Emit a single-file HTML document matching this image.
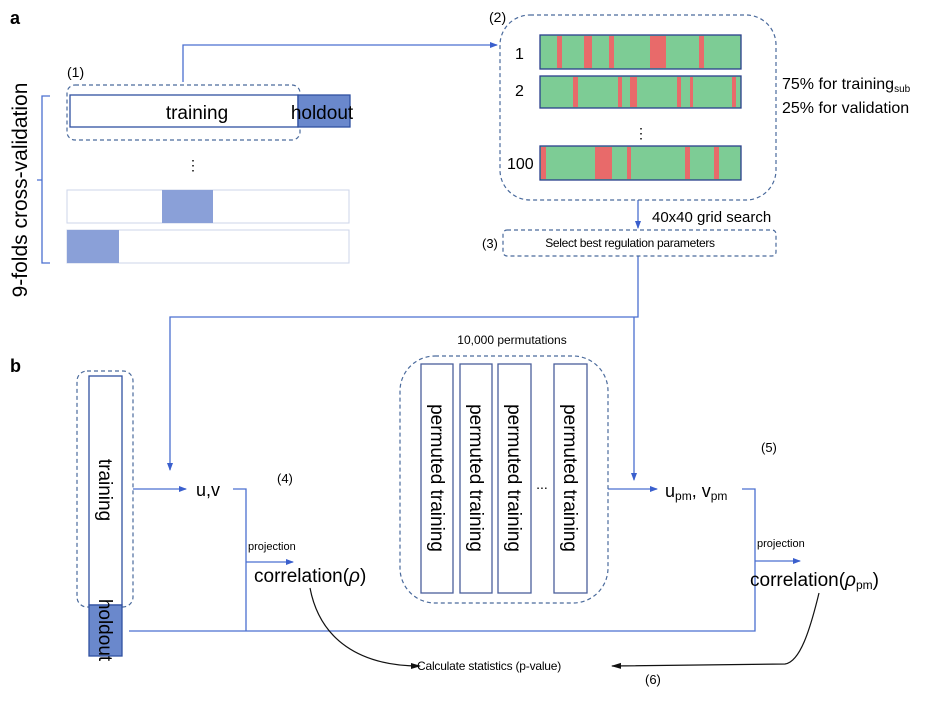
<!DOCTYPE html>
<html><head><meta charset="utf-8"><style>body{margin:0;background:#fff}svg{display:block}text{font-family:"Liberation Sans",sans-serif}</style></head><body>
<svg width="936" height="712" viewBox="0 0 936 712" xmlns="http://www.w3.org/2000/svg">
<defs>
<marker id="ab" markerWidth="8" markerHeight="8" refX="7" refY="4" orient="auto" markerUnits="userSpaceOnUse"><path d="M0,1 L8,4 L0,7 z" fill="#3a5fcd"/></marker>
<marker id="ak" markerWidth="10" markerHeight="8" refX="9" refY="4" orient="auto" markerUnits="userSpaceOnUse"><path d="M0,1 L10,4 L0,7 z" fill="#111"/></marker>
</defs>
<g fill="none" stroke="#4a6fd0" stroke-width="1.3">
<path d="M183,82 L183,45 L497,45" marker-end="url(#ab)"/>
<path d="M50,96 L42,96 L42,263 L50,263 M42,180 L37,180"/>
<path d="M638,200 L638,228" marker-end="url(#ab)"/>
<path d="M638,256 L638,317 L170,317 L170,470" marker-end="url(#ab)"/>
<path d="M634,317 L634,480" marker-end="url(#ab)"/>
<path d="M133,489 L186,489" marker-end="url(#ab)"/>
<path d="M233,489 L246,489 L246,631"/>
<path d="M246,562 L293,562" marker-end="url(#ab)"/>
<path d="M129,631 L755,631 L755,489 L742,489"/>
<path d="M608,489 L657,489" marker-end="url(#ab)"/>
<path d="M755,561 L800,561" marker-end="url(#ab)"/>
</g>
<g fill="none" stroke="#111" stroke-width="1.2">
<path d="M310,588 C320,640 360,666 420,666" marker-end="url(#ak)"/>
<path d="M819,593 C810,630 800,662 785,664 L612,666" marker-end="url(#ak)"/>
</g>
<text x="10" y="24" font-size="18" font-weight="bold">a</text>
<text x="10" y="372" font-size="18" font-weight="bold">b</text>
<text x="67" y="77" font-size="14">(1)</text>
<rect x="67" y="85" width="233" height="55" rx="8" fill="none" stroke="#4a6a9c" stroke-dasharray="4,3" stroke-width="1.2"/>
<rect x="70" y="95" width="228" height="32" fill="none" stroke="#3050a0" stroke-width="1.3"/>
<rect x="298" y="95" width="52" height="32" fill="#6a88cc" stroke="#3050a0" stroke-width="1.3"/>
<text x="197" y="119" font-size="19" text-anchor="middle">training</text>
<text x="322" y="119" font-size="19" text-anchor="middle">holdout</text>
<text x="193" y="170" font-size="14" text-anchor="middle">⋮</text>
<rect x="67" y="190" width="282" height="33" fill="none" stroke="#cdd5ea"/>
<rect x="162" y="190" width="51" height="33" fill="#8aa0d8"/>
<rect x="67" y="230" width="282" height="33" fill="none" stroke="#cdd5ea"/>
<rect x="67" y="230" width="52" height="33" fill="#8aa0d8"/>
<text transform="translate(27,190) rotate(-90)" font-size="21" text-anchor="middle">9-folds cross-validation</text>
<text x="489" y="22" font-size="14">(2)</text>
<rect x="500" y="15" width="276" height="185" rx="30" fill="none" stroke="#4a6a9c" stroke-dasharray="4,3" stroke-width="1.2"/>
<g fill="#7dcc95" stroke="#2a3e8c" stroke-width="1.3">
<rect x="540" y="35" width="201" height="34"/><rect x="540" y="76" width="201" height="32"/><rect x="540" y="146" width="201" height="34"/>
</g>
<g fill="#e86a6a">
<rect x="557" y="36" width="5" height="32"/><rect x="584" y="36" width="8" height="32"/><rect x="609" y="36" width="5" height="32"/><rect x="650" y="36" width="16" height="32"/><rect x="699" y="36" width="5" height="32"/>
<rect x="573" y="77" width="5" height="30"/><rect x="618" y="77" width="4" height="30"/><rect x="630" y="77" width="7" height="30"/><rect x="677" y="77" width="4" height="30"/><rect x="690" y="77" width="3" height="30"/><rect x="732" y="77" width="4" height="30"/>
<rect x="541" y="147" width="5" height="32"/><rect x="595" y="147" width="17" height="32"/><rect x="627" y="147" width="4" height="32"/><rect x="685" y="147" width="5" height="32"/><rect x="714" y="147" width="5" height="32"/>
</g>
<text x="515" y="59" font-size="16">1</text>
<text x="515" y="96" font-size="16">2</text>
<text x="507" y="169" font-size="16">100</text>
<text x="641" y="138" font-size="14" text-anchor="middle">⋮</text>
<text x="782" y="89" font-size="16">75% for training<tspan font-size="10" dy="3">sub</tspan></text>
<text x="782" y="113" font-size="16">25% for validation</text>
<text x="652" y="222" font-size="15">40x40 grid search</text>
<text x="482" y="248" font-size="13">(3)</text>
<rect x="503" y="230" width="273" height="26" rx="4" fill="none" stroke="#4a6a9c" stroke-dasharray="4,3" stroke-width="1.2"/>
<text x="630" y="247" font-size="12" text-anchor="middle" letter-spacing="-0.3">Select best regulation parameters</text>
<rect x="77" y="371" width="56" height="236" rx="10" fill="none" stroke="#4a6a9c" stroke-dasharray="4,3" stroke-width="1.2"/>
<rect x="89" y="376" width="33" height="229" fill="none" stroke="#3050a0" stroke-width="1.3"/>
<rect x="89" y="605" width="33" height="51" fill="#6a88cc" stroke="#3050a0" stroke-width="1.3"/>
<text transform="translate(99,490) rotate(90)" font-size="19" text-anchor="middle">training</text>
<text transform="translate(99,630) rotate(90)" font-size="19" text-anchor="middle">holdout</text>
<text x="196" y="496" font-size="18">u,v</text>
<text x="277" y="483" font-size="13">(4)</text>
<text x="248" y="550" font-size="11">projection</text>
<text x="254" y="582" font-size="19">correlation(<tspan font-style="italic">ρ</tspan>)</text>
<text x="512" y="344" font-size="12" text-anchor="middle">10,000 permutations</text>
<rect x="400" y="356" width="208" height="247" rx="35" fill="none" stroke="#4a6a9c" stroke-dasharray="4,3" stroke-width="1.2"/>
<g fill="none" stroke="#4a5f9c" stroke-width="1.3">
<rect x="421" y="364" width="32" height="229"/><rect x="460" y="364" width="32" height="229"/><rect x="498" y="364" width="33" height="229"/><rect x="554" y="364" width="33" height="229"/>
</g>
<g font-size="19" text-anchor="middle">
<text transform="translate(431,478) rotate(90)">permuted training</text>
<text transform="translate(470,478) rotate(90)">permuted training</text>
<text transform="translate(508,478) rotate(90)">permuted training</text>
<text transform="translate(564,478) rotate(90)">permuted training</text>
</g>
<text x="542" y="489" font-size="14" text-anchor="middle">...</text>
<text x="665" y="497" font-size="18">u<tspan font-size="12" dy="3">pm</tspan><tspan dy="-3">, v</tspan><tspan font-size="12" dy="3">pm</tspan></text>
<text x="761" y="452" font-size="13">(5)</text>
<text x="757" y="547" font-size="11">projection</text>
<text x="750" y="586" font-size="19">correlation(<tspan font-style="italic">ρ</tspan><tspan font-size="12" dy="3">pm</tspan><tspan dy="-3">)</tspan></text>
<text x="417" y="670" font-size="12" letter-spacing="-0.2">Calculate statistics (p-value)</text>
<text x="645" y="684" font-size="13">(6)</text>
</svg>
</body></html>
